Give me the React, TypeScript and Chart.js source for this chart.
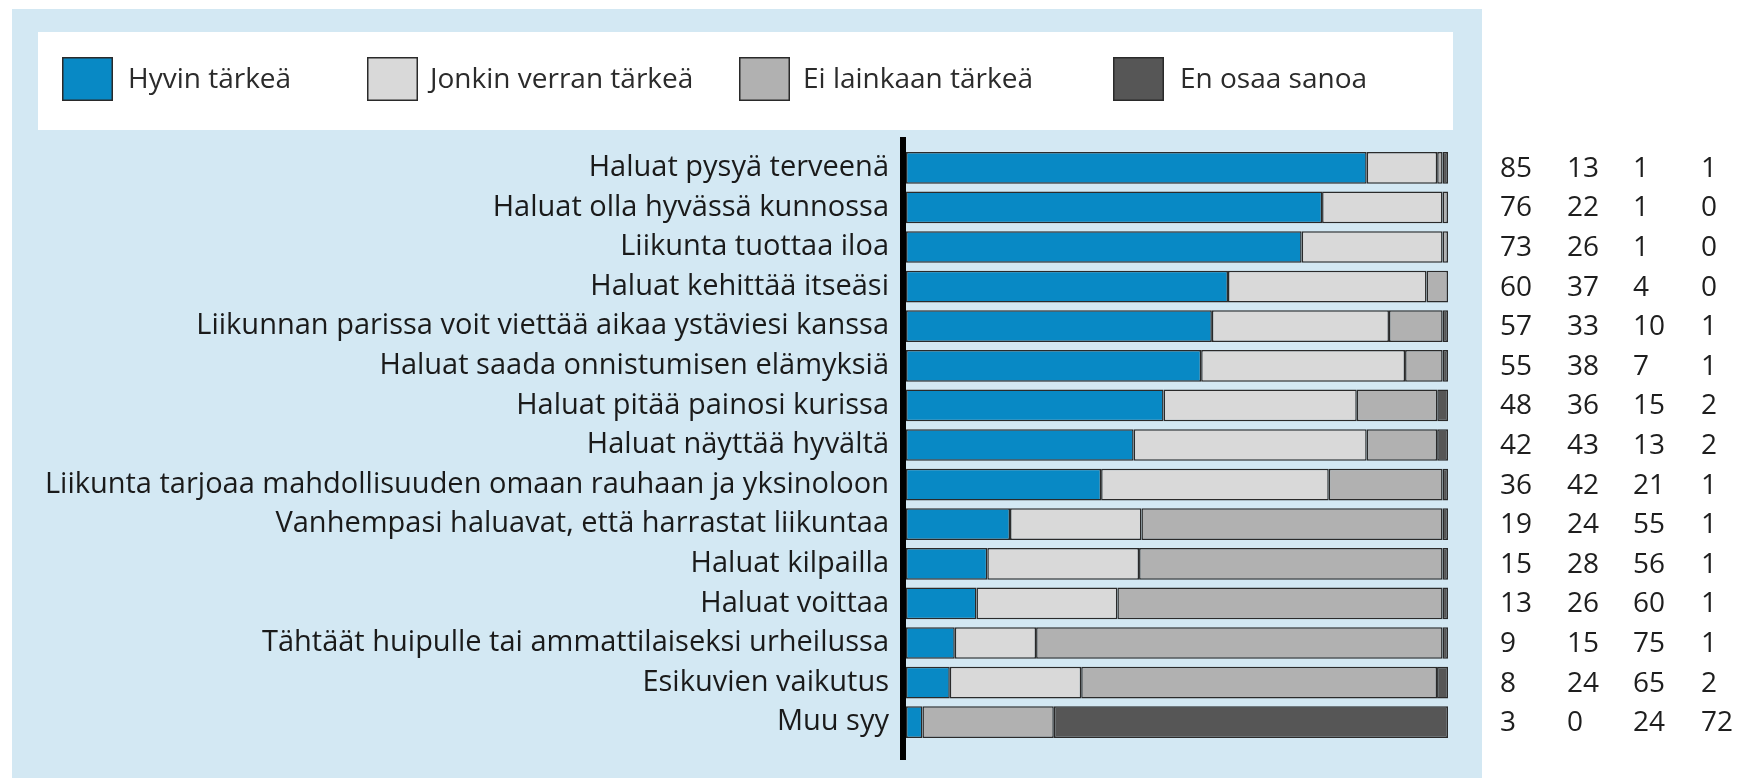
import React, { useEffect, useRef } from "react";
import { Chart, registerables } from "chart.js";

Chart.register(...registerables);

const categories = [
  "Haluat pysyä terveenä",
  "Haluat olla hyvässä kunnossa",
  "Liikunta tuottaa iloa",
  "Haluat kehittää itseäsi",
  "Liikunnan parissa voit viettää aikaa ystäviesi kanssa",
  "Haluat saada onnistumisen elämyksiä",
  "Haluat pitää painosi kurissa",
  "Haluat näyttää hyvältä",
  "Liikunta tarjoaa mahdollisuuden omaan rauhaan ja yksinoloon",
  "Vanhempasi haluavat, että harrastat liikuntaa",
  "Haluat kilpailla",
  "Haluat voittaa",
  "Tähtäät huipulle tai ammattilaiseksi urheilussa",
  "Esikuvien vaikutus",
  "Muu syy",
];

const seriesLabels = ["Hyvin tärkeä", "Jonkin verran tärkeä", "Ei lainkaan tärkeä", "En osaa sanoa"];

const hyvinTarkea = [85, 76, 73, 60, 57, 55, 48, 42, 36, 19, 15, 13, 9, 8, 3];
const jonkinVerran = [13, 22, 26, 37, 33, 38, 36, 43, 42, 24, 28, 26, 15, 24, 0];
const eiLainkaan = [1, 1, 1, 4, 10, 7, 15, 13, 21, 55, 56, 60, 75, 65, 24];
const enOsaa = [1, 0, 0, 0, 1, 1, 2, 2, 1, 1, 1, 1, 1, 2, 72];

const seriesColors = ["#0889c5", "#d9d9d9", "#b1b1b1", "#565656"];

const allSeries = [hyvinTarkea, jonkinVerran, eiLainkaan, enOsaa];
const rowSums = categories.map((_, i) => allSeries.reduce((s, arr) => s + arr[i], 0));

const columnX = [1500, 1567, 1633, 1701];
const legendSwatchX = [62, 367, 739, 1113];
const legendTextX = [128, 430, 803, 1180];

const decorPlugin = {
  id: "decor",
  beforeDraw(chart: any) {
    const ctx = chart.ctx;
    ctx.save();
    ctx.fillStyle = "#ffffff";
    ctx.fillRect(0, 0, chart.width, chart.height);
    ctx.fillStyle = "#d3e8f3";
    ctx.fillRect(12, 9, 1470, 769);
    ctx.fillStyle = "#ffffff";
    ctx.fillRect(38, 32, 1415, 98);
    // legend
    ctx.font = "28px 'Open Sans'";
    ctx.textBaseline = "middle";
    chart.data.datasets.forEach((ds: any, i: number) => {
      ctx.fillStyle = ds.backgroundColor;
      ctx.fillRect(legendSwatchX[i], 57, 51, 44);
      ctx.strokeStyle = "#2a2a2a";
      ctx.lineWidth = 1.5;
      ctx.strokeRect(legendSwatchX[i] + 0.75, 57.75, 49.5, 42.5);
      ctx.fillStyle = "#2b2b2b";
      ctx.textAlign = "left";
      ctx.fillText(ds.label, legendTextX[i], 80);
    });
    ctx.restore();
  },
  afterDraw(chart: any) {
    const ctx = chart.ctx;
    const y = chart.scales.y;
    ctx.save();
    ctx.fillStyle = "#000000";
    ctx.fillRect(chart.chartArea.left - 6, 137, 6, 623);
    ctx.font = "28px 'Open Sans'";
    ctx.textBaseline = "middle";
    ctx.textAlign = "left";
    ctx.fillStyle = "#1e1e1e";
    categories.forEach((_, i) => {
      const py = y.getPixelForValue(i);
      allSeries.forEach((arr, j) => {
        ctx.fillText(String(arr[i]), columnX[j], py + 1);
      });
    });
    ctx.restore();
  },
};

export default function App() {
  const ref = useRef<HTMLCanvasElement>(null);
  useEffect(() => {
    if (!ref.current) return;
    const chart = new Chart(ref.current, {
      type: "bar",
      data: {
        labels: categories,
        datasets: allSeries.map((arr, j) => ({
          label: seriesLabels[j],
          data: arr.map((v, i) => (v / rowSums[i]) * 100),
          backgroundColor: seriesColors[j],
          borderColor: "#2a2a2a",
          borderWidth: 1.5,
          borderSkipped: false,
          barPercentage: 0.8,
          categoryPercentage: 1,
        })),
      },
      options: {
        indexAxis: "y",
        animation: false,
        responsive: false,
        maintainAspectRatio: false,
        layout: { padding: { left: 0, top: 148, bottom: 36, right: 294 } },
        plugins: { legend: { display: false }, tooltip: { enabled: false } },
        scales: {
          x: { stacked: true, min: 0, max: 100, display: false },
          y: {
            stacked: true,
            afterFit(scale: any) {
              scale.width = 906;
            },
            grid: { display: false, drawTicks: false },
            border: { display: false },
            ticks: {
              padding: 17,
              color: "#1a1a1a",
              font: { family: "'Open Sans'", size: 29 },
              autoSkip: false,
            },
          },
        },
      },
      plugins: [decorPlugin],
    });
    return () => chart.destroy();
  }, []);
  return (
    <div style={{ position: "fixed", left: 0, top: 0, width: 1742, height: 778 }}>
      <canvas ref={ref} width={1742} height={778} style={{ width: 1742, height: 778, display: "block" }} />
    </div>
  );
}
